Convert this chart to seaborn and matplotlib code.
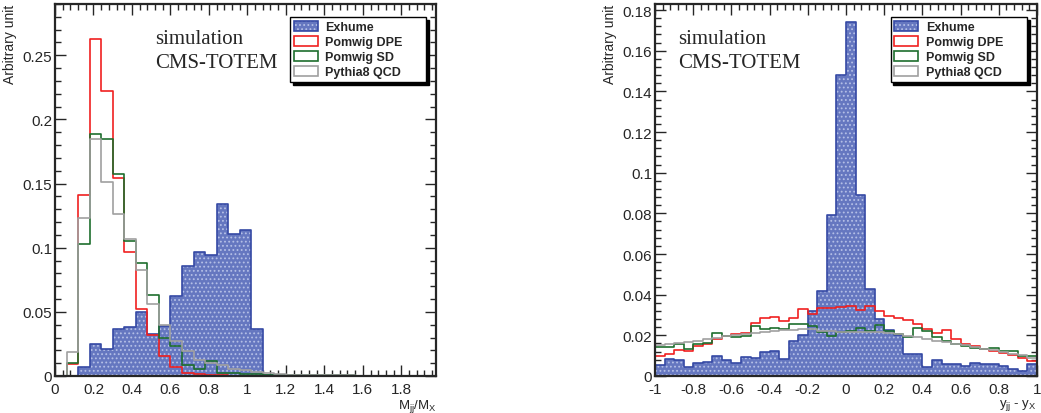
import numpy as np
import pandas as pd
import matplotlib
matplotlib.use("Agg")
import matplotlib.pyplot as plt
import matplotlib.patches as mpatches
from matplotlib.ticker import MultipleLocator, FuncFormatter
import seaborn as sns

sns.set_style("ticks")
plt.rcParams["font.family"] = ["Liberation Sans", "DejaVu Sans"]
plt.rcParams["mathtext.default"] = "regular"
plt.rcParams["hatch.linewidth"] = 0.8

# ---- left panel: Mjj/Mx, bins of 0.06 from 0 to 1.98
mass_edges = np.linspace(0, 1.98, 34)
exhume_m = [0, 0, 0.007, 0.0247, 0.021, 0.037, 0.0385, 0.0495, 0.0325, 0.039,
            0.0625, 0.086, 0.0964, 0.0945, 0.134, 0.1107, 0.114, 0.037, 0.001,
            0.0005, 0.0003, 0, 0, 0, 0, 0, 0, 0, 0, 0, 0, 0, 0]
dpe_m = [0, 0.009, 0.1414, 0.263, 0.222, 0.154, 0.0964, 0.0526, 0.0318, 0.0158,
         0.0068, 0.0022, 0.0013, 0.0006, 0.0004, 0.0003, 0.0002, 0.0002, 0.0001,
         0.0001, 0.0001, 0.0001, 0, 0, 0, 0, 0, 0, 0, 0, 0, 0, 0]
sd_m = [0, 0.0104, 0.103, 0.189, 0.185, 0.1576, 0.1055, 0.0878, 0.063, 0.030,
        0.0234, 0.0086, 0.0057, 0.0117, 0.002, 0.002, 0.0013, 0.0015, 0.001,
        0.0008, 0.0008, 0.0006, 0.0006, 0.0005, 0.0005, 0.0005, 0, 0, 0, 0, 0, 0, 0]
qcd_m = [0, 0.0188, 0.123, 0.185, 0.151, 0.126, 0.1068, 0.0826, 0.056, 0.040,
         0.027, 0.0195, 0.0125, 0.0104, 0.0086, 0.0057, 0.0047, 0.003, 0.002,
         0.0015, 0.001, 0.001, 0.0008, 0.0006, 0.0005, 0.0004, 0, 0, 0, 0, 0, 0, 0]

# ---- right panel: yjj - yx, bins of 0.05 from -1 to 1
rap_edges = np.linspace(-1, 1, 41)
exhume_y = [0.0052, 0.0082, 0.0077, 0.0043, 0.0062, 0.0068, 0.0100, 0.0077, 0.0062, 0.0092,
            0.0090, 0.0117, 0.0124, 0.0084, 0.0170, 0.0200, 0.032, 0.042, 0.079, 0.148,
            0.174, 0.089, 0.043, 0.028, 0.0225, 0.020, 0.0107, 0.0107, 0.0045, 0.0077,
            0.006, 0.0058, 0.005, 0.0062, 0.0057, 0.0057, 0.005, 0.0033, 0.0025, 0.0058]
dpe_y = [0.0098, 0.0107, 0.0128, 0.0123, 0.0148, 0.0156, 0.0184, 0.0197, 0.0208, 0.0213,
         0.0262, 0.0287, 0.0292, 0.027, 0.0287, 0.0329, 0.0305, 0.0334, 0.0334, 0.0337,
         0.0345, 0.0324, 0.0345, 0.0318, 0.0293, 0.0287, 0.0274, 0.0254, 0.0233, 0.0213,
         0.0225, 0.018, 0.0156, 0.0148, 0.0131, 0.0123, 0.0111, 0.0102, 0.009, 0.0074]
sd_y = [0.0143, 0.0143, 0.0156, 0.0134, 0.0156, 0.0164, 0.0213, 0.0197, 0.0193, 0.0197,
        0.0246, 0.023, 0.0238, 0.023, 0.0254, 0.0255, 0.0248, 0.0218, 0.0198, 0.0218,
        0.0223, 0.0234, 0.0223, 0.0250, 0.0223, 0.0207, 0.019, 0.0238, 0.022, 0.019,
        0.0172, 0.0156, 0.0148, 0.014, 0.0131, 0.014, 0.0123, 0.0123, 0.0098, 0.0098]
qcd_y = [0.0151, 0.0156, 0.0164, 0.0167, 0.0172, 0.018, 0.0189, 0.0197, 0.02, 0.0205,
         0.0213, 0.0218, 0.0221, 0.0225, 0.0228, 0.0232, 0.023, 0.0221, 0.0219, 0.0218,
         0.0218, 0.0218, 0.0216, 0.0218, 0.0213, 0.0205, 0.0197, 0.0192, 0.0184, 0.0172,
         0.0167, 0.0156, 0.0151, 0.0144, 0.0134, 0.0126, 0.0118, 0.011, 0.0102, 0.009]

labels = ["Exhume", "Pomwig DPE", "Pomwig SD", "Pythia8 QCD"]
blue_fill = "#6577c0"
blue_dots = "#b4bfe6"
blue_edge = "#3549a4"
line_cols = ["#f02020", "#1e6e2e", "#a0a0a0"]

fmt = FuncFormatter(lambda v, p: f"{round(v, 4):g}")


def draw_panel(ax, edges, exhume, others, text_x):
    centers = (edges[:-1] + edges[1:]) / 2
    bins = list(edges)
    df = pd.DataFrame({"c": centers, "w": exhume})
    # hatched fill, then outline of the same histogram
    sns.histplot(data=df, x="c", weights="w", bins=bins, element="step", fill=True,
                 facecolor=blue_fill, edgecolor=blue_dots, hatch="....",
                 linewidth=0, ax=ax)
    sns.histplot(data=df, x="c", weights="w", bins=bins, element="step", fill=False,
                 color=blue_edge, linewidth=1.2, ax=ax)
    for vals, col in zip(others, line_cols):
        d = pd.DataFrame({"c": centers, "w": vals})
        sns.histplot(data=d, x="c", weights="w", bins=bins, element="step", fill=False,
                     color=col, linewidth=1.2, ax=ax)
    ax.set_xlim(edges[0], edges[-1])
    ax.xaxis.set_major_locator(MultipleLocator(0.2))
    ax.xaxis.set_minor_locator(MultipleLocator(0.04))
    ax.xaxis.set_major_formatter(fmt)
    ax.yaxis.set_major_formatter(fmt)
    ax.tick_params(which="both", direction="in", top=True, right=True,
                   width=1, labelsize=11, pad=2)
    ax.tick_params(axis="x", which="major", pad=4)
    ax.tick_params(which="major", length=8)
    ax.tick_params(which="minor", length=4)
    for s in ax.spines.values():
        s.set_linewidth(1.6)
    ax.set_ylabel("Arbitrary unit", loc="top", fontsize=10)
    ax.text(text_x, 0.895, "simulation",
            transform=ax.transAxes, family=["Liberation Serif"], fontsize=15)
    ax.text(text_x, 0.831, "CMS-TOTEM",
            transform=ax.transAxes, family=["Liberation Serif"], fontsize=15)
    exh = (mpatches.Patch(facecolor=blue_fill, edgecolor=blue_dots, hatch="....", linewidth=0),
           mpatches.Patch(fill=False, edgecolor=blue_edge, linewidth=1.2))
    handles = [exh] + [mpatches.Patch(facecolor="white", edgecolor=c, linewidth=1.2)
                       for c in line_cols]
    ax.legend(handles, labels, loc="upper left", bbox_to_anchor=(0.617, 0.796, 0.357, 0.169),
              mode="expand", borderaxespad=0, fancybox=False, framealpha=1,
              edgecolor="black", shadow={"color": "black", "alpha": 1},
              prop={"weight": "bold", "size": 9}, handlelength=1.9, handleheight=0.9,
              labelspacing=0.2, borderpad=0.3, handletextpad=0.6)


fig = plt.figure(figsize=(10.41, 4.14), dpi=100)
ax1 = fig.add_axes([0.0528, 0.0894, 0.366, 0.8986])
ax2 = fig.add_axes([0.6292, 0.0894, 0.367, 0.8986])

draw_panel(ax1, mass_edges, exhume_m, [dpe_m, sd_m, qcd_m], 0.262)
ax1.set_ylim(0, 0.29)
ax1.yaxis.set_major_locator(MultipleLocator(0.05))
ax1.yaxis.set_minor_locator(MultipleLocator(0.01))
ax1.set_xlabel(r"M$_{jj}$/M$_{X}$", loc="right", fontsize=9.5)
ax1.xaxis.set_label_coords(1.0, -0.056)
ax1.yaxis.set_label_coords(-0.1, 1.0)

draw_panel(ax2, rap_edges, exhume_y, [dpe_y, sd_y, qcd_y], 0.06)
ax2.set_ylim(0, 0.183)
ax2.yaxis.set_major_locator(MultipleLocator(0.02))
ax2.yaxis.set_minor_locator(MultipleLocator(0.004))
ax2.set_xlabel(r"y$_{jj}$ - y$_{X}$", loc="right", fontsize=9.5)
ax2.xaxis.set_label_coords(1.0, -0.056)
ax2.yaxis.set_label_coords(-0.1, 1.0)

fig.savefig("out.png", dpi=100)
